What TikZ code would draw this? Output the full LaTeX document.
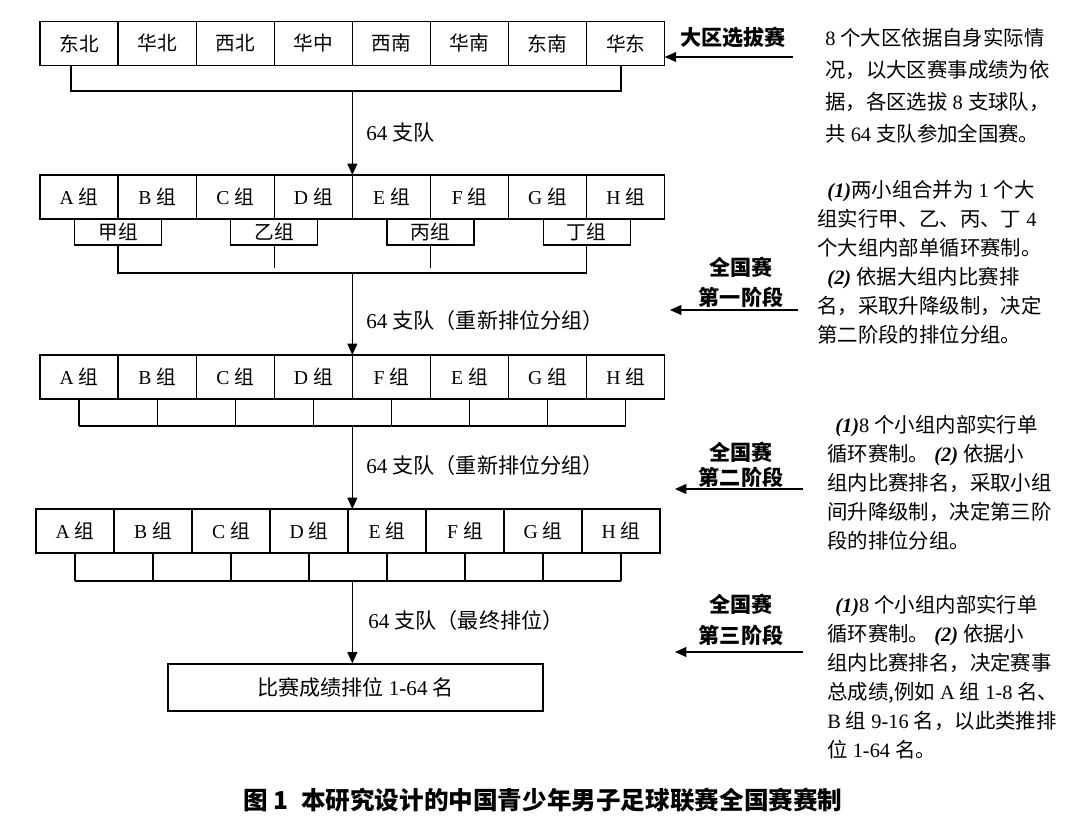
\documentclass[tikz,border=0pt]{standalone}
\usepackage{fontspec}
\setmainfont{Liberation Serif}
\newfontfamily\zhfont{Noto Sans CJK SC}
\usetikzlibrary{arrows.meta,positioning,calc}
\newcommand\zh[1]{{\zhfont #1}}

\tikzset{
  cell/.style={draw,line width=0.8pt,minimum width=1.95cm,minimum height=1.1cm,
    inner sep=0pt,outer sep=0pt,font=\fontsize{14}{16}\selectfont},
  subcell/.style={draw,line width=0.8pt,minimum width=2.175cm,minimum height=0.65cm,
    inner sep=0pt,outer sep=0pt,font=\fontsize{14}{16}\selectfont},
  link/.style={line width=0.8pt},
  flow/.style={line width=0.8pt,-{Triangle[length=8pt,width=7pt]}},
  stage/.style={align=center,inner sep=0pt,font=\zhfont\bfseries\fontsize{15}{21.5}\selectfont},
  count/.style={anchor=west,inner sep=0pt,font=\fontsize{15}{18}\selectfont},
  note/.style={anchor=north west,inner sep=0pt,align=left,font=\fontsize{14.5}{20.6}\selectfont}
}

\begin{document}
\begin{tikzpicture}[x=0.025cm,y=-0.025cm]
  \useasboundingbox (0,0) rectangle (1080,826);

  % regions
  \foreach \lbl [count=\i] in {东北,华北,西北,华中,西南,华南,东南,华东}
    \node[cell] (r1c\i) at ({40+78.1*(\i-0.5)},43.5) {\zh{\lbl}};
  \coordinate (j1) at (r1c4.south east |- 0,91);
  \draw[link] ([xshift=-2mm]r1c1.south) |- (j1) -| ([xshift=-1.2mm]r1c8.south);
  \draw[flow] (j1) -- (j1 |- 0,175);
  \node[count] (n1) at (366,133) {64 \zh{支队}};

  % stage 1
  \foreach \lbl [count=\i] in {A,B,C,D,E,F,G,H}
    \node[cell] (r2c\i) at ({40+78.1*(\i-0.5)},197) {\lbl{} \zh{组}};
  \foreach \lbl [count=\i, evaluate=\i as \k using int(2*\i-1)] in {甲组,乙组,丙组,丁组}
    \node[subcell,anchor=north] (g\i) at (r2c\k.south east) {\zh{\lbl}};
  \coordinate (j2) at (j1 |- 0,273);
  \draw[link] (g1.south) |- (j2) -| (g4.south);
  \draw[link] (g2.south) -- ++(0,23) (g3.south) -- ++(0,23);
  \draw[flow] (j2) -- (j2 |- 0,355);
  \node[count] (n2) at (366,320) {64 \zh{支队（重新排位分组）}};

  % stage 2
  \foreach \lbl [count=\i] in {A,B,C,D,F,E,G,H}
    \node[cell] (r3c\i) at ({40+78.1*(\i-0.5)},377) {\lbl{} \zh{组}};
  \coordinate (j3) at (j1 |- 0,426);
  \foreach \i in {1,...,8}
    \draw[link] (r3c\i.south) -- (r3c\i.south |- j3);
  \draw[link] (r3c1.south |- j3) -- (r3c8.south |- j3);
  \draw[flow] (j3) -- (j3 |- 0,509);
  \node[count] (n3) at (366,465) {64 \zh{支队（重新排位分组）}};

  % stage 3
  \foreach \lbl [count=\i] in {A,B,C,D,E,F,G,H}
    \node[cell] (r4c\i) at ({36+78*(\i-0.5)},531) {\lbl{} \zh{组}};
  \coordinate (j4) at (j1 |- 0,581);
  \foreach \i in {1,...,8}
    \draw[link] (r4c\i.south) -- (r4c\i.south |- j4);
  \draw[link] (r4c1.south |- j4) -- (r4c8.south |- j4);
  \node[draw,line width=0.8pt,minimum width=9.375cm,minimum height=1.175cm,
    font=\fontsize{15}{18}\selectfont] (fin) at (355.5,687.5) {\zh{比赛成绩排位} 1-64 \zh{名}};
  \draw[flow] (j4) -- (j4 |- fin.north);
  \node[count] (n4) at (368,620) {64 \zh{支队（最终排位）}};

  % stage labels
  \node[stage] (s0) at (733,37) {大区选拔赛};
  \coordinate (a0) at (793,57);
  \draw[flow] (a0) -- (a0 -| r1c8.east);
  \node[stage] (s1) at (741,282) {全国赛\\第一阶段};
  \coordinate (a1) at (798,310);
  \draw[flow] (a1) -- ++(-128,0);
  \node[stage] (s2) at (741,465) {全国赛\\[-4pt]第二阶段};
  \coordinate (a2) at (803,489);
  \draw[flow] (a2) -- ++(-128,0);
  \node[stage] (s3) at (741,620) {全国赛\\[1pt]第三阶段};
  \coordinate (a3) at (803,652);
  \draw[flow] (a3) -- ++(-128,0);

  % notes
  \node[note,font=\fontsize{14.5}{22.8}\selectfont] (p0) at (825,28) {%
    8 \zh{个大区依据自身实际情}\\
    \zh{况，以大区赛事成绩为依}\\
    \zh{据，各区选拔} 8 \zh{支球队，}\\
    \zh{共} 64 \zh{支队参加全国赛。}};
  \node[note] (p1) at (817,180) {%
    \hspace*{0.5em}\textbf{\textit{(1)}}\zh{两小组合并为} 1 \zh{个大}\\
    \zh{组实行甲、乙、丙、丁} 4\\
    \zh{个大组内部单循环赛制。}\\
    \hspace*{0.5em}\textbf{\textit{(2)}} \zh{依据大组内比赛排}\\
    \zh{名，采取升降级制，决定}\\
    \zh{第二阶段的排位分组。}};
  \node[note] (p2) at (827,415) {%
    \hspace*{0.4em}\textbf{\textit{(1)}}8 \zh{个小组内部实行单}\\
    \zh{循环赛制。} \textbf{\textit{(2)}} \zh{依据小}\\
    \zh{组内比赛排名，采取小组}\\
    \zh{间升降级制，决定第三阶}\\
    \zh{段的排位分组。}};
  \node[note] (p3) at (827,595) {%
    \hspace*{0.4em}\textbf{\textit{(1)}}8 \zh{个小组内部实行单}\\
    \zh{循环赛制。} \textbf{\textit{(2)}} \zh{依据小}\\
    \zh{组内比赛排名，决定赛事}\\
    \zh{总成绩,例如} A \zh{组} 1-8 \zh{名、}\\
    B \zh{组} 9-16 \zh{名，以此类推排}\\
    \zh{位} 1-64 \zh{名。}};

  \node[font=\zhfont\bfseries\fontsize{17.5}{20}\selectfont] (cap) at (543,800)
    {图 1\enspace 本研究设计的中国青少年男子足球联赛全国赛赛制};
\end{tikzpicture}
\end{document}
